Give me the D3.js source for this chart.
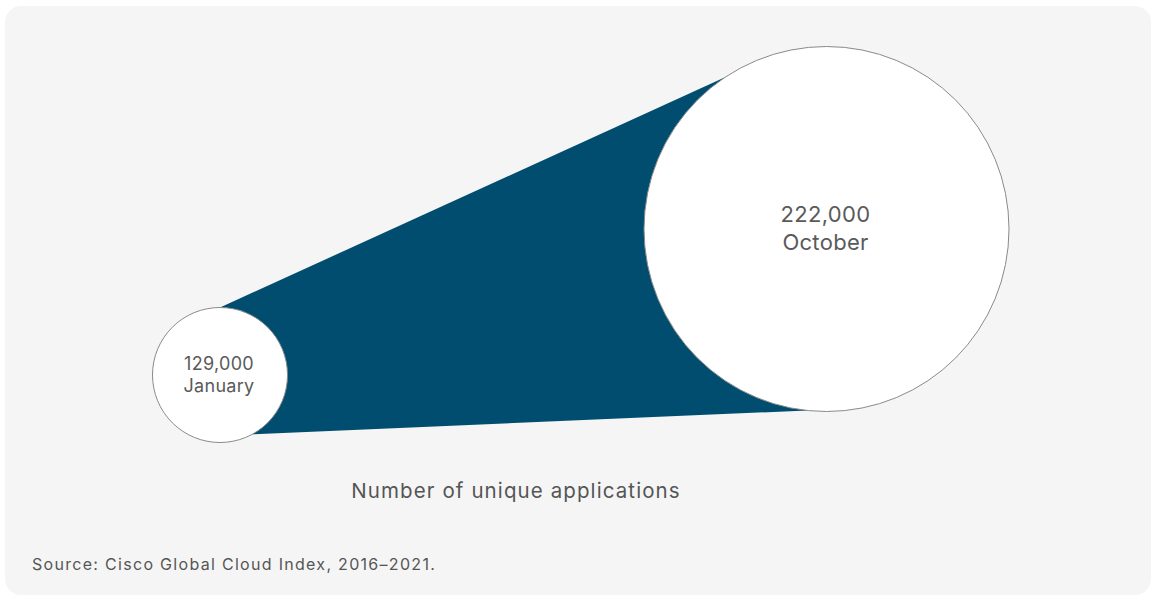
<!DOCTYPE html>
<html>
<head>
<meta charset="utf-8">
<script src="https://cdn.jsdelivr.net/npm/d3@7"></script>
<style>
  html, body { margin: 0; padding: 0; background: #ffffff; }
  svg { display: block; font-family: Inter, "Liberation Sans", Arial, sans-serif; }
</style>
</head>
<body>
<svg id="chart" width="1154" height="597"></svg>
<script>
// Unique applications counted at two points in the year
const months = ["January", "October"];
const monthIndex = [0, 9];
const counts = [129000, 222000];
const countLabels = ["129,000", "222,000"];

const title = "Number of unique applications";
const source = "Source: Cisco Global Cloud Index, 2016\u20132021.";

const svg = d3.select("#chart");
const W = 1154, H = 597;

// light panel behind the graphic
svg.append("rect")
  .attr("x", 5).attr("y", 6)
  .attr("width", W - 8).attr("height", H - 8)
  .attr("rx", 16).attr("ry", 16)
  .attr("fill", "#f5f5f5");

// scales: month -> horizontal position, count -> vertical position and radius
const x = d3.scaleLinear().domain([0, 9]).range([220, 826.5]);
const y = d3.scaleLinear().domain([129000, 222000]).range([375, 229]);
const r = d3.scaleLinear().domain([129000, 222000]).range([67.5, 182.5]);

const nodes = months.map((m, i) => ({
  month: m,
  label: countLabels[i],
  value: counts[i],
  cx: x(monthIndex[i]),
  cy: y(counts[i]),
  r: r(counts[i])
}));

const pt = (n, deg) => {
  const a = deg * Math.PI / 180;
  return [n.cx + n.r * Math.cos(a), n.cy + n.r * Math.sin(a)];
};

// growth band joining the two circles
const [a, b] = nodes;
const band = [pt(a, -90), pt(b, -123.6), pt(b, 96), pt(a, 61.5)];
svg.append("path")
  .attr("d", d3.line()(band) + "Z")
  .attr("fill", "#014d70");

// circles
svg.selectAll("circle.node")
  .data(nodes)
  .join("circle")
  .attr("class", "node")
  .attr("cx", d => d.cx)
  .attr("cy", d => d.cy)
  .attr("r", d => d.r)
  .attr("fill", "#ffffff")
  .attr("stroke", "#8a8a8a")
  .attr("stroke-width", 1);

// value + month labels inside circles
const fs = d3.scaleLinear().domain([129000, 222000]).range([18, 22]);
nodes.forEach(n => {
  const size = fs(n.value);
  const g = svg.append("g").attr("fill", "#5a5a5a").attr("text-anchor", "middle");
  g.append("text")
    .attr("x", n.cx - 1)
    .attr("y", n.cy - size * 0.3)
    .attr("font-size", size)
    .attr("letter-spacing", 0.3)
    .text(n.label);
  g.append("text")
    .attr("x", n.cx - 1)
    .attr("y", n.cy + size * 0.95)
    .attr("font-size", size)
    .attr("letter-spacing", 0.3)
    .text(n.month);
});

// caption under the graphic
svg.append("text")
  .attr("x", 516).attr("y", 498)
  .attr("text-anchor", "middle")
  .attr("font-size", 20.5)
  .attr("letter-spacing", 1.1)
  .attr("fill", "#555555")
  .text(title);

svg.append("text")
  .attr("x", 32).attr("y", 570)
  .attr("font-size", 16)
  .attr("letter-spacing", 1.3)
  .attr("fill", "#555555")
  .text(source);
</script>
</body>
</html>
